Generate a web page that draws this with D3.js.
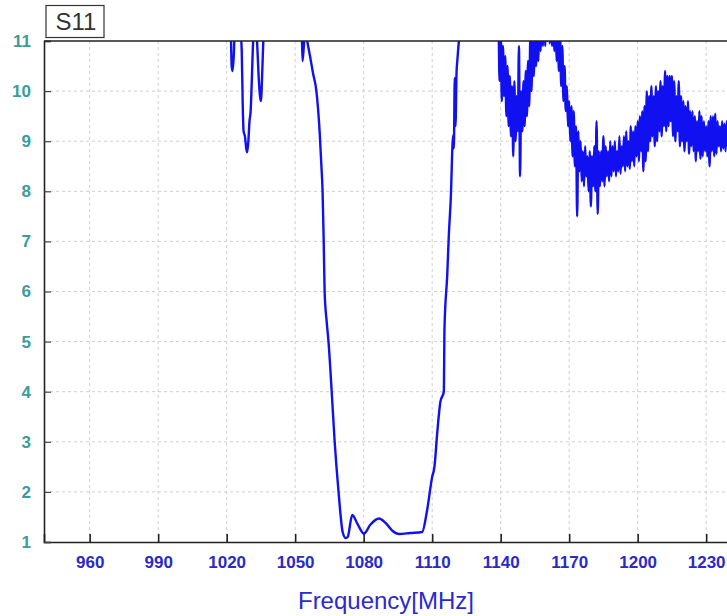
<!DOCTYPE html>
<html>
<head>
<meta charset="utf-8">
<script src="https://cdn.jsdelivr.net/npm/d3@7"></script>
<style>
  body { margin: 0; background: #fff; }
  svg { display: block; }
</style>
</head>
<body>
<div id="chart"></div>
<script>
// S11 trace
// smooth part: frequency (MHz) and S11 value pairs
const smoothFreq = [
  1021.0, 1021.8, 1022.2, 1022.6, 1023.2, 1023.6, 1024.4, 1025.0, 1025.8, 1026.6,
  1027.0, 1027.4, 1028.0, 1028.6, 1029.0, 1029.5, 1030.0, 1030.5, 1031.0, 1031.5,
  1032.0, 1032.8, 1033.4, 1034.0, 1034.6, 1035.0, 1035.6, 1036.2, 1036.8, 1045.0,
  1052.8, 1053.2, 1053.8, 1054.4, 1055.3, 1056.5, 1057.8, 1059.3, 1060.7, 1061.5,
  1062.0, 1062.5, 1062.9, 1063.8, 1064.6, 1066.0, 1067.3, 1069.0, 1070.8, 1072.1,
  1073.0, 1075.0, 1077.4, 1080.1, 1083.0, 1086.7, 1089.6, 1092.7, 1095.4, 1100.5,
  1105.6, 1107.8, 1110.0, 1111.0, 1112.2, 1113.6, 1115.1, 1115.4, 1116.6, 1117.3,
  1118.1, 1119.2, 1119.5, 1119.9, 1120.2, 1120.7, 1121.0, 1122.1, 1123.0, 1138.5
]
const smoothS11 = [
  11.6, 11.2, 10.5, 10.4, 10.8, 11.4, 11.5, 11.3, 11.3, 10.8,
  9.8, 9.2, 9.1, 8.85, 8.78, 9.0, 9.4, 9.6, 10.2, 10.9,
  11.3, 11.4, 10.9, 10.3, 9.9, 9.8, 10.4, 11.2, 11.6, 11.8,
  11.4, 10.6, 10.9, 11.3, 11.0, 10.7, 10.36, 10.0, 9.2, 8.5,
  8.0, 7.0, 6.0, 5.4, 5.0, 4.0, 3.0, 2.0, 1.2, 1.08,
  1.1, 1.54, 1.35, 1.17, 1.35, 1.47, 1.38, 1.22, 1.16, 1.18,
  1.2, 1.64, 2.3, 2.5, 3.17, 3.8, 4.0, 5.27, 6.33, 7.13,
  7.8, 9.12, 8.86, 10.26, 9.3, 10.4, 10.6, 11.2, 11.6, 11.8
]

// noisy part: samples every 0.5 MHz from 1139 MHz
const noisyStart = 1139.0
const noisyStep = 0.5
const noisyS11 = [
  11.6, 10.2, 11.3, 9.8, 10.9, 9.9, 10.7, 9.5, 10.5, 9.3,
  10.3, 9.1, 10.1, 8.7, 10.2, 9.0, 9.9, 9.2, 10.9, 8.3,
  10.0, 9.2, 10.2, 9.3, 10.4, 9.5, 10.6, 9.7, 11.1, 10.0,
  11.3, 10.3, 11.4, 10.5, 11.5, 10.6, 11.4, 10.8, 11.5, 10.9,
  11.6, 10.9, 11.5, 11.0, 11.6, 10.95, 11.5, 10.9, 11.4, 10.8,
  11.4, 10.6, 11.3, 10.4, 11.2, 10.1, 10.9, 9.8, 10.5, 9.6,
  10.1, 9.3, 9.8, 9.0, 9.7, 8.7, 9.6, 8.5, 9.3, 7.5,
  9.2, 8.4, 9.0, 8.2, 8.8, 8.1, 8.9, 8.3, 8.7, 8.0,
  8.8, 7.7, 8.7, 8.1, 8.9, 8.0, 9.4, 7.55, 8.8, 8.1,
  8.8, 8.2, 9.1, 8.1, 8.9, 8.3, 8.8, 8.2, 9.0, 8.3,
  8.9, 8.4, 9.0, 8.3, 8.8, 8.4, 9.1, 8.35, 8.9, 8.5,
  9.1, 8.4, 9.2, 8.5, 9.0, 8.45, 9.3, 8.6, 9.2, 8.5,
  9.3, 8.7, 9.4, 8.6, 9.5, 8.8, 9.6, 8.4, 9.7, 8.6,
  10.0, 8.8, 9.9, 9.0, 10.1, 9.1, 9.9, 8.9, 10.1, 9.0,
  10.0, 9.2, 10.2, 9.1, 10.1, 9.3, 10.4, 9.2, 10.3, 9.3,
  10.3, 9.4, 10.3, 9.1, 10.2, 9.0, 9.9, 9.2, 10.2, 8.9,
  9.9, 9.0, 9.8, 8.8, 9.7, 9.0, 9.8, 8.75, 9.6, 8.9,
  9.6, 8.8, 9.5, 8.6, 9.4, 8.8, 9.6, 8.65, 9.5, 8.7,
  9.4, 8.8, 9.3, 8.7, 9.4, 8.5, 9.5, 8.8, 9.5, 8.7,
  9.55, 8.75, 9.4, 8.9, 9.3, 8.8, 9.4, 8.85, 9.35, 8.8,
  9.4, 8.9, 9.2
]

const xTicks = [960, 990, 1020, 1050, 1080, 1110, 1140, 1170, 1200, 1230]
const yTicks = [1, 2, 3, 4, 5, 6, 7, 8, 9, 10, 11]

const w = 727
const h = 616
const margin = {top: 41, right: -2, bottom: 74, left: 44}

const svg = d3.select('#chart')
    .append('svg')
    .attr('width', w)
    .attr('height', h)

const x = d3.scaleLinear().domain([940, 1240]).range([margin.left, w - margin.right])
const y = d3.scaleLinear().domain([1, 11]).range([h - margin.bottom, margin.top])

// grid
svg.append('g')
    .selectAll('line')
    .data(xTicks)
    .enter()
    .append('line')
    .attr('x1', d => x(d))
    .attr('x2', d => x(d))
    .attr('y1', y(11))
    .attr('y2', y(1))
    .attr('stroke', '#cfcfcf')
    .attr('stroke-dasharray', '3,3')

svg.append('g')
    .selectAll('line')
    .data(yTicks.slice(1, -1))
    .enter()
    .append('line')
    .attr('x1', x(940))
    .attr('x2', w + 5)
    .attr('y1', d => y(d))
    .attr('y2', d => y(d))
    .attr('stroke', '#cfcfcf')
    .attr('stroke-dasharray', '3,3')

// trace
const points = smoothFreq.map((f, i) => [f, smoothS11[i]])
    .concat(noisyS11.map((v, i) => [noisyStart + i * noisyStep, v]))

svg.append('clipPath')
    .attr('id', 'plot-clip')
    .append('rect')
    .attr('x', x(940))
    .attr('y', y(11))
    .attr('width', w - x(940) + 5)
    .attr('height', y(1) - y(11))

const line = d3.line()
    .x(d => x(d[0]))
    .y(d => y(d[1]))
    .curve(d3.curveMonotoneX)

svg.append('path')
    .datum(points)
    .attr('clip-path', 'url(#plot-clip)')
    .attr('d', line)
    .attr('fill', 'none')
    .attr('stroke', '#1010f0')
    .attr('stroke-width', 2.4)
    .attr('stroke-linejoin', 'round')

// axes
const xAxis = svg.append('g')
    .attr('transform', `translate(0, ${y(1)})`)
    .call(d3.axisBottom(x).tickValues(xTicks).tickSize(-8).tickPadding(14).tickFormat(d3.format('d')))
xAxis.select('.domain').attr('stroke', '#222').attr('stroke-width', 1.6)
xAxis.selectAll('.tick line').attr('stroke', '#222').attr('stroke-width', 1.6)
xAxis.selectAll('text')
    .attr('fill', '#2a2ac8')
    .style('font-family', 'Liberation Sans, Arial, sans-serif')
    .style('font-size', '17px')
    .style('font-weight', 'bold')

const yAxis = svg.append('g')
    .attr('transform', `translate(${x(940)}, 0)`)
    .call(d3.axisLeft(y).tickValues(yTicks).tickSize(-7).tickPadding(13))
yAxis.select('.domain').attr('stroke', '#222').attr('stroke-width', 1.6)
yAxis.selectAll('.tick line').attr('stroke', '#444').attr('stroke-width', 1.2)
yAxis.selectAll('text')
    .attr('fill', '#3a9c9c')
    .style('font-family', 'Liberation Sans, Arial, sans-serif')
    .style('font-size', '17px')
    .style('font-weight', 'bold')

// top frame line
svg.append('line')
    .attr('x1', x(940))
    .attr('x2', w + 5)
    .attr('y1', y(11))
    .attr('y2', y(11))
    .attr('stroke', '#222')
    .attr('stroke-width', 1.6)

// S11 label box
svg.append('rect')
    .attr('x', 46)
    .attr('y', 5.5)
    .attr('width', 58)
    .attr('height', 32)
    .attr('fill', '#fff')
    .attr('stroke', '#333')
    .attr('stroke-width', 1.2)

svg.append('text')
    .attr('x', 76)
    .attr('y', 30)
    .attr('text-anchor', 'middle')
    .attr('fill', '#333')
    .style('font-family', 'Liberation Sans, Arial, sans-serif')
    .style('font-size', '24px')
    .text('S11')

svg.append('text')
    .attr('x', 386)
    .attr('y', 609)
    .attr('text-anchor', 'middle')
    .attr('fill', '#2a2ad0')
    .style('font-family', 'Liberation Sans, Arial, sans-serif')
    .style('font-size', '24px')
    .text('Frequency[MHz]')
</script>
</body>
</html>
